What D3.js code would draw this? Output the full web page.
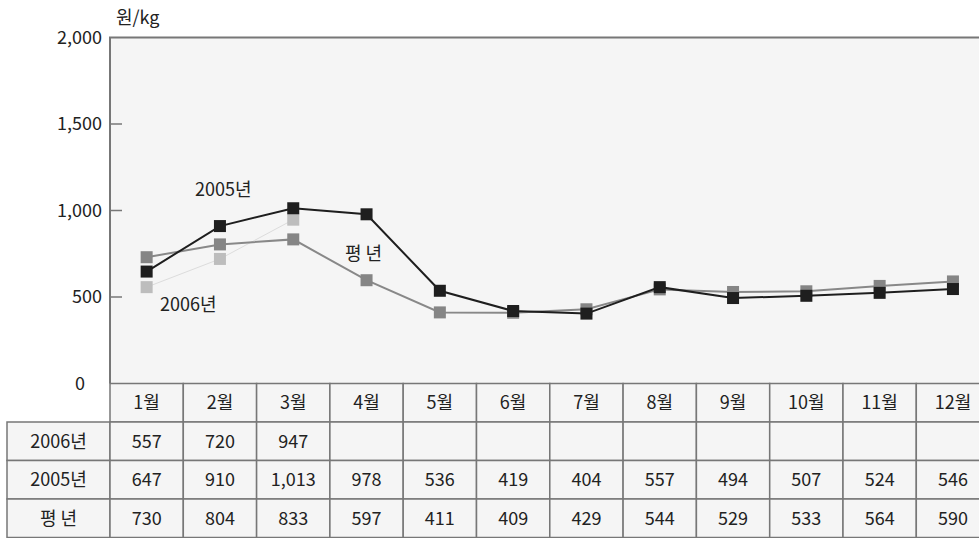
<!DOCTYPE html>
<html>
<head>
<meta charset="utf-8">
<script src="https://cdn.jsdelivr.net/npm/d3@7"></script>
<style>
body { margin: 0; background: #fff; }
svg { display: block; font-family: "Noto Sans CJK KR", "Noto Sans", sans-serif; }
</style>
</head>
<body>
<svg id="chart" width="979" height="538"></svg>
<script>
var months = ['1월','2월','3월','4월','5월','6월','7월','8월','9월','10월','11월','12월']
var rowNames = ['2006년', '2005년', '평 년']
var v2006 = [557, 720, 947]
var v2005 = [647, 910, 1013, 978, 536, 419, 404, 557, 494, 507, 524, 546]
var vAvg = [730, 804, 833, 597, 411, 409, 429, 544, 529, 533, 564, 590]
var yTicks = [0, 500, 1000, 1500, 2000]

var plotL = 110, plotT = 37.5, plotB = 383.5, colW = 73.3, rowH = 38.5, labelX = 7
var grid = '#777', fill = '#f5f5f5', fs = 18

var svg = d3.select('#chart')

var x = d3.scaleBand().domain(months).range([plotL, plotL + colW * 12])
var y = d3.scaleLinear().domain([0, 2000]).range([plotB, plotT])
var cx = d => x(d) + x.bandwidth() / 2

// plot background
svg.append('rect')
    .attr('x', plotL).attr('y', plotT)
    .attr('width', 979 - plotL).attr('height', plotB - plotT)
    .attr('fill', fill)
svg.append('path')
    .attr('d', 'M' + plotL + ',' + plotB + 'V' + plotT + 'H979')
    .attr('fill', 'none').attr('stroke', grid).attr('stroke-width', 2)

// y axis ticks and labels
var fmt = d3.format(',')
svg.selectAll('.ytick')
    .data(yTicks.filter(d => d > 0 && d < 2000))
    .enter().append('line')
    .attr('x1', plotL).attr('x2', plotL + 12)
    .attr('y1', d => y(d)).attr('y2', d => y(d))
    .attr('stroke', grid).attr('stroke-width', 1.5)
svg.selectAll('.ylab')
    .data(yTicks)
    .enter().append('text')
    .attr('x', d => d == 0 ? 85 : 102)
    .attr('y', d => y(d) + 6)
    .attr('text-anchor', 'end')
    .attr('font-size', fs)
    .attr('fill', '#222')
    .text(d => fmt(d))
svg.append('text')
    .attr('x', 116).attr('y', 24)
    .attr('font-size', fs).attr('fill', '#222')
    .text('원/kg')

// table
var table = svg.append('g')
var rows = [null].concat([v2006, v2005, vAvg])
rows.forEach(function (vals, r) {
    var ry = plotB + r * rowH
    if (r > 0) {
        table.append('rect')
            .attr('x', labelX).attr('y', ry)
            .attr('width', plotL - labelX).attr('height', rowH)
            .attr('fill', fill).attr('stroke', grid).attr('stroke-width', 1.5)
        table.append('text')
            .attr('x', (labelX + plotL) / 2).attr('y', ry + rowH / 2 + 6.5)
            .attr('text-anchor', 'middle').attr('font-size', fs).attr('fill', '#222')
            .text(rowNames[r - 1])
    }
    months.forEach(function (m, i) {
        table.append('rect')
            .attr('x', x(m)).attr('y', ry)
            .attr('width', x.bandwidth()).attr('height', rowH)
            .attr('fill', fill).attr('stroke', grid).attr('stroke-width', 1.5)
        var t = r == 0 ? m : (vals[i] != null ? fmt(vals[i]) : '')
        table.append('text')
            .attr('x', cx(m)).attr('y', ry + rowH / 2 + 6.5)
            .attr('text-anchor', 'middle').attr('font-size', fs).attr('fill', '#222')
            .text(t)
    })
})

// series
var series = [
    {vals: v2006, line: '#dcdcdc', lw: 1, mark: '#bdbdbd'},
    {vals: vAvg, line: '#888', lw: 2, mark: '#858585'},
    {vals: v2005, line: '#1e1e1e', lw: 2, mark: '#1e1e1e'}
]
var line = d3.line().x((d, i) => cx(months[i])).y(d => y(d))
var ms = 12
series.forEach(function (s) {
    svg.append('path')
        .attr('d', line(s.vals))
        .attr('fill', 'none').attr('stroke', s.line).attr('stroke-width', s.lw)
    svg.selectAll(null)
        .data(s.vals)
        .enter().append('rect')
        .attr('x', (d, i) => cx(months[i]) - ms / 2)
        .attr('y', d => y(d) - ms / 2)
        .attr('width', ms).attr('height', ms)
        .attr('fill', s.mark)
})

// series labels
var notes = [['2005년', 195, 196], ['2006년', 160, 311], ['평 년', 345, 260]]
notes.forEach(function (n) {
    svg.append('text')
        .attr('x', n[1]).attr('y', n[2])
        .attr('font-size', fs).attr('fill', '#222')
        .text(n[0])
})
</script>
</body>
</html>
